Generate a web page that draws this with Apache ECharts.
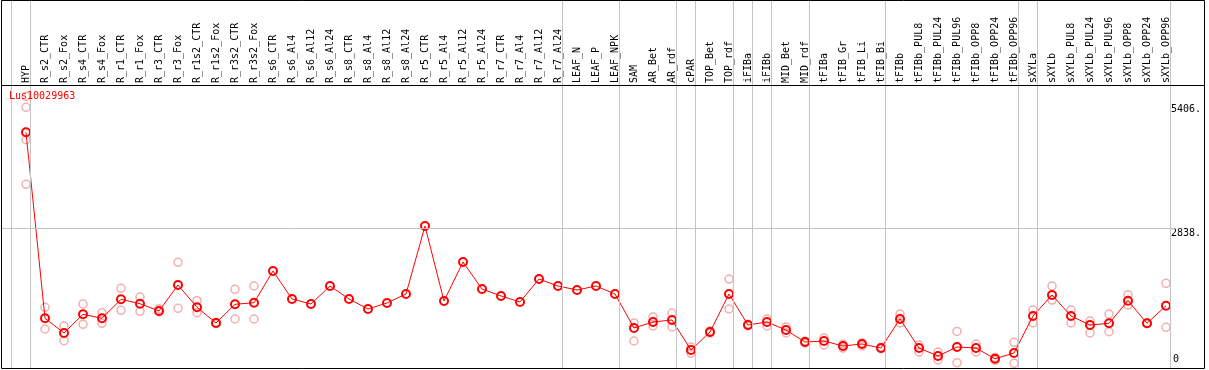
<!DOCTYPE html>
<html>
<head>
<meta charset="utf-8">
<script src="https://cdn.jsdelivr.net/npm/echarts@6/dist/echarts.min.js"></script>
<style>
html,body{margin:0;padding:0;background:#fff;}
#chart{width:1209px;height:370px;}
</style>
</head>
<body>
<div id="chart"></div>
<script>
const categories = ['HYP','R_s2_CTR','R_s2_Fox','R_s4_CTR','R_s4_Fox','R_r1_CTR','R_r1_Fox','R_r3_CTR','R_r3_Fox','R_r1s2_CTR','R_r1s2_Fox','R_r3s2_CTR','R_r3s2_Fox','R_s6_CTR','R_s6_Al4','R_s6_Al12','R_s6_Al24','R_s8_CTR','R_s8_Al4','R_s8_Al12','R_s8_Al24','R_r5_CTR','R_r5_Al4','R_r5_Al12','R_r5_Al24','R_r7_CTR','R_r7_Al4','R_r7_Al12','R_r7_Al24','LEAF_N','LEAF_P','LEAF_NPK','SAM','AR_Bet','AR_rdf','cPAR','TOP_Bet','TOP_rdf','iFIBa','iFIBb','MID_Bet','MID_rdf','tFIBa','tFIB_Gr','tFIB_Li','tFIB_Bi','tFIBb','tFIBb_PUL8','tFIBb_PUL24','tFIBb_PUL96','tFIBb_OPP8','tFIBb_OPP24','tFIBb_OPP96','sXYLa','sXYLb','sXYLb_PUL8','sXYLb_PUL24','sXYLb_PUL96','sXYLb_OPP8','sXYLb_OPP24','sXYLb_OPP96'];

const means = [4834,963,658,1047,963,1359,1267,1115,1656,1192,866,1255,1288,1948,1365,1261,1636,1365,1157,1282,1469,2884,1324,2135,1573,1428,1303,1781,1636,1552,1636,1469,762,887,928,304,678,1469,824,887,720,470,491,387,429,345,949,345,179,366,345,120,241,1011,1448,1011,824,859,1330,859,1226];

const replicates = [[5583,5354,4680,3752],[1192,741],[803,497],[1261,839],[1080,859],[1588,1130],[1407,1109],[1163,1101],[2129,1172],[1330,1080],[880,852],[1567,949],[1636,949],
[],[],[],[],[],[],[],[],[],[],[],[],[],[],[],[],[],[],[],
[868,491],[991,803],[1074,783],[366,241],[700,656],[1781,1157],[840,808],[949,803],[783,658],[490,450],[554,408],[429,345],[450,387],[360,330],[1053,866],[408,262],[262,96],[690,40],[429,262],[150,90],[464,27],[1136,866],[1636,1344],[1136,866],[907,658],[1053,685],[1455,1240],[870,850],[1692,776]];

const groupEnds = [-1,0,28,31,34,35,37,38,39,41,45,52,53,60];
const yTickLabels = [0, 2838, 5406];
const refLine = 2838;
const title = 'Lus10029963';

const FONT = 'DejaVu Sans Mono';
const chart = echarts.init(document.getElementById('chart'));

const meanData = means.map((v, i) => [i, v]);
const repData = [];
replicates.forEach((arr, i) => arr.forEach(v => repData.push([i, v])));

const xMin = -25 / 19, xMax = 62;
const yMin = -91.6, yMax = 7588;

chart.setOption({
  animation: false,
  title: {
    text: title, left: 9, top: 91, padding: 0,
    textStyle: {color: '#ff0000', fontSize: 10, fontWeight: 'normal', fontFamily: FONT}
  },
  grid: {left: 1, top: 0, width: 1203, height: 369, containLabel: false},
  xAxis: {
    type: 'value', min: xMin, max: xMax,
    position: 'top', offset: -85,
    axisLine: {show: false},
    axisTick: {show: false},
    splitLine: {show: false},
    axisLabel: {
      customValues: categories.map((c, i) => i),
      rotate: 90, margin: 2, fontSize: 10, fontFamily: FONT, color: '#000',
      formatter: v => categories[v] || ''
    }
  },
  yAxis: [{
    type: 'value', min: yMin, max: yMax, position: 'right', offset: -33,
    axisLine: {show: false}, axisTick: {show: false}, splitLine: {show: false},
    axisLabel: {
      customValues: yTickLabels.filter(v => v !== 0),
      margin: 0, fontSize: 10, fontFamily: FONT, color: '#000', verticalAlign: 'top', align: 'left',
      formatter: v => v + '.'
    }
  }, {
    type: 'value', min: yMin, max: yMax, position: 'right', offset: -33,
    axisLine: {show: false}, axisTick: {show: false}, splitLine: {show: false},
    axisLabel: {
      customValues: yTickLabels.filter(v => v === 0),
      margin: 2, fontSize: 10, fontFamily: FONT, color: '#000', verticalAlign: 'bottom', align: 'left',
      formatter: v => String(v)
    }
  }],
  graphic: [{
    type: 'rect', z: 100, silent: true,
    shape: {x: 1.5, y: 0.5, width: 1203, height: 368},
    style: {fill: 'none', stroke: '#000', lineWidth: 1}
  }, {
    type: 'line', z: 100, silent: true,
    shape: {x1: 1.5, y1: 85.5, x2: 1204.5, y2: 85.5},
    style: {stroke: '#000', lineWidth: 1}
  }],
  series: [{
    type: 'scatter', name: 'replicates', data: repData, z: 2,
    symbol: 'circle', symbolSize: 8,
    itemStyle: {color: 'rgba(0,0,0,0)', borderColor: '#f09a9a', borderWidth: 1.5},
    markLine: {
      silent: true, symbol: 'none', animation: false,
      label: {show: false},
      lineStyle: {color: '#c4c4c4', width: 1, type: 'solid'},
      data: groupEnds.map(g => ({xAxis: g + 0.24})).concat([
        [{coord: [xMin, refLine]}, {coord: [60.45, refLine]}]
      ])
    }
  }, {
    type: 'line', name: 'mean', data: meanData, z: 3,
    symbol: 'circle', symbolSize: 8, showAllSymbol: true,
    lineStyle: {color: '#ff0000', width: 1},
    itemStyle: {color: 'rgba(0,0,0,0)', borderColor: '#ff0000', borderWidth: 2}
  }]
});
</script>
</body>
</html>
